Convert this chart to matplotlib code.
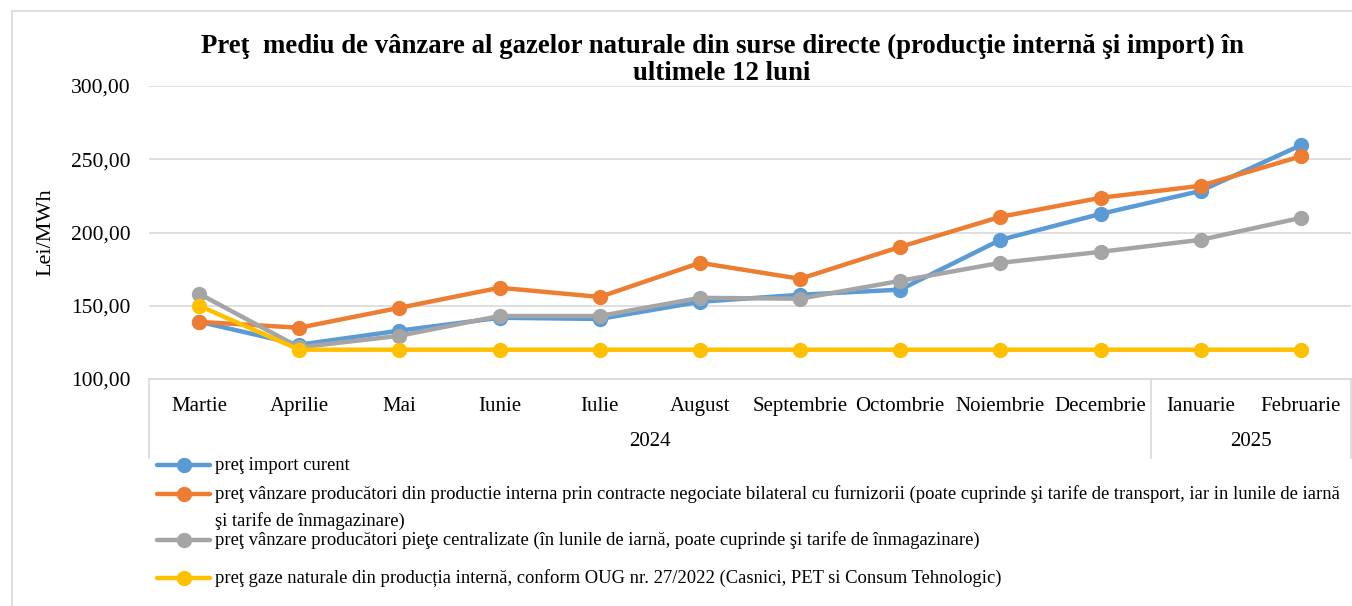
import matplotlib.pyplot as plt
from matplotlib.lines import Line2D
from matplotlib.patches import Rectangle
from matplotlib.ticker import FuncFormatter

plt.rcParams["font.family"] = ["Liberation Serif", "DejaVu Serif"]

# ─────────────────────────────────────────────
# DATE
# ─────────────────────────────────────────────

months = ["Martie", "Aprilie", "Mai", "Iunie", "Iulie", "August", "Septembrie",
          "Octombrie", "Noiembrie", "Decembrie", "Ianuarie", "Februarie"]
years = ["2024", "2025"]
year_counts = [10, 2]

import_curent = [139.1, 123.4, 133.0, 141.8, 141.0, 152.7, 157.5, 161.0, 195.0, 212.7, 228.4, 259.6]
bilateral = [139.0, 135.0, 148.6, 162.3, 156.0, 179.3, 168.4, 190.2, 210.7, 223.7, 231.9, 252.0]
centralizate = [158.2, 121.6, 129.5, 143.0, 143.0, 155.4, 154.8, 167.0, 179.3, 186.8, 195.0, 210.0]
oug_27 = [150.0, 120.0, 120.0, 120.0, 120.0, 120.0, 120.0, 120.0, 120.0, 120.0, 120.0, 120.0]

labels = [
    "preţ import curent",
    "preţ vânzare producători din productie interna prin contracte negociate bilateral cu furnizorii "
    "(poate cuprinde şi tarife de transport, iar in lunile de iarnă",
    "preţ vânzare producători pieţe centralizate (în lunile de iarnă, poate cuprinde şi tarife de înmagazinare)",
    "preţ gaze naturale din producția internă, conform OUG nr. 27/2022 (Casnici, PET si Consum Tehnologic)",
]
colors = ["#5B9BD5", "#ED7D31", "#A5A5A5", "#FFC000"]
series = [import_curent, bilateral, centralizate, oug_27]

# ─────────────────────────────────────────────
# GRAFIC
# ─────────────────────────────────────────────

W, H = 1352, 606
fig = plt.figure(figsize=(W / 100, H / 100), dpi=100)
fig.patch.set_facecolor("white")

# chenarul graficului (iese din imagine la dreapta si jos)
fig.add_artist(Rectangle((12 / W, -0.1), 1.2, 1.1 - 11 / H, transform=fig.transFigure,
                         fill=False, edgecolor="#D9D9D9", linewidth=1.2))

ax = fig.add_axes([149 / W, 1 - 379 / H, 1202 / W, 293 / H])
x = list(range(len(months)))

for i, (vals, col) in enumerate(zip(series, colors)):
    ax.plot(x, vals, color=col, linewidth=3.2, marker="o", markersize=10,
            zorder=3 + i, solid_capstyle="round")

ax.set_xlim(-0.5, len(months) - 0.5)
ax.set_ylim(100, 300)
ax.set_yticks([100, 150, 200, 250, 300])
ax.yaxis.set_major_formatter(FuncFormatter(lambda v, p: f"{v:.2f}".replace(".", ",")))
ax.tick_params(axis="y", length=0, pad=13.5, labelsize=15.5)
ax.set_xticks([])
ax.grid(axis="y", color="#D9D9D9", linewidth=1.2)
ax.set_axisbelow(True)
for s in ["top", "right", "left"]:
    ax.spines[s].set_visible(False)
ax.spines["bottom"].set_color("#D9D9D9")
ax.spines["bottom"].set_linewidth(1.2)

# axa categoriilor: luni si ani
trans = ax.get_xaxis_transform()
for xi, m in zip(x, months):
    ax.text(xi, -0.093, m, transform=trans, ha="center", va="center", fontsize=15)

start = 0
bounds = [-0.5]
for yr, cnt in zip(years, year_counts):
    mid = start + (cnt - 1) / 2
    ax.text(mid, -0.215, yr, transform=trans, ha="center", va="center", fontsize=15)
    start += cnt
    bounds.append(start - 0.5)
for b in bounds:
    ax.plot([b, b], [0, -0.27], transform=trans, color="#D9D9D9", linewidth=1.2, clip_on=False)

fig.text(46 / W, 1 - 232 / H, "Lei/MWh", rotation=90, ha="center", va="center", fontsize=16)

fig.text(722 / W, 1 - 46 / H,
         "Preţ  mediu de vânzare al gazelor naturale din surse directe (producţie internă şi import) în",
         ha="center", va="center", fontsize=19.3, fontweight="bold")
fig.text(722 / W, 1 - 73 / H, "ultimele 12 luni",
         ha="center", va="center", fontsize=19.3, fontweight="bold")

# legenda
legend_y = [465, 494, 540, 578]
for lab, col, ly in zip(labels, colors, legend_y):
    fy = 1 - ly / H
    fig.add_artist(Line2D([157 / W, 210 / W], [fy, fy], transform=fig.transFigure,
                          color=col, linewidth=3.2, solid_capstyle="round"))
    fig.add_artist(Line2D([183.5 / W], [fy], transform=fig.transFigure, color=col,
                          marker="o", markersize=10))
    fig.text(215 / W, fy, lab, ha="left", va="center", fontsize=13.4)
fig.text(215 / W, 1 - 521 / H, "şi tarife de înmagazinare)", ha="left", va="center", fontsize=13.4)

plt.savefig("out.png", dpi=100, facecolor="white")
